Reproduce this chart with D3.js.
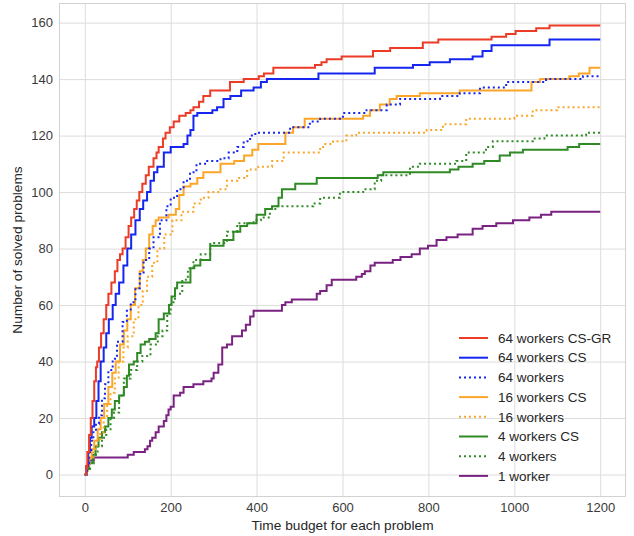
<!DOCTYPE html>
<html>
<head>
<meta charset="utf-8">
<script src="https://cdn.jsdelivr.net/npm/d3@7"></script>
<style>
  body { margin: 0; background: #fff; }
  svg { font-family: "Liberation Sans", Arial, sans-serif; }
</style>
</head>
<body>
<div id="chart"></div>
<script>
"use strict";

// step points [time, solved]
const cs_gr_64 = [[0,0],[3,3],[6,8],[10,14],[14,20],[18,26],[22,33],[26,38],[29,40],[33,45],[38,50],[44,55],[50,60],[55,64],[62,68],[70,72],[76,76],[82,78],[88,80],[95,84],[102,88],[108,91],[115,94],[121,97],[127,100],[134,103],[142,106],[149,109],[160,112],[167,114],[172,116],[182,119],[188,121],[198,123],[207,125],[220,127],[235,128],[246,129],[253,130],[266,132],[276,134],[292,136],[338,139],[370,140],[405,141],[417,142],[439,144],[536,145],[551,146],[563,147],[598,148],[671,150],[711,151],[787,153],[823,154],[947,155],[981,156],[1003,157],[1051,158],[1082,159],[1200,159]];
const cs_64 = [[0,0],[4,3],[8,8],[12,13],[16,17],[22,20],[27,26],[32,33],[37,40],[44,45],[50,50],[56,55],[65,60],[72,64],[80,68],[90,74],[99,80],[108,85],[118,90],[128,94],[136,97],[145,100],[153,104],[161,107],[169,109],[184,114],[200,116],[230,117],[239,120],[246,122],[253,127],[262,128],[297,129],[308,130],[323,133],[339,134],[364,136],[393,137],[410,139],[424,140],[544,142],[675,144],[764,145],[803,146],[850,147],[903,148],[926,150],[947,152],[1082,154],[1200,154]];
const base_64 = [[0,0],[5,4],[10,8],[15,12],[20,15],[26,18],[33,21],[40,27],[47,32],[55,37],[65,41],[75,47],[88,54],[98,58],[107,61],[118,66],[128,71],[137,76],[150,80],[160,84],[175,90],[190,95],[200,98],[215,101],[230,104],[245,107],[260,110],[280,111],[316,112],[335,114],[355,116],[370,118],[385,120],[397,121],[478,123],[524,125],[548,126],[601,128],[656,129],[703,131],[734,133],[827,134],[873,135],[920,137],[981,139],[1074,140],[1160,141],[1200,141]];
const cs_16 = [[0,0],[5,3],[10,6],[16,9],[22,12],[30,16],[37,20],[45,25],[55,31],[64,36],[72,40],[82,46],[91,51],[99,55],[107,60],[117,66],[128,72],[135,76],[142,80],[150,85],[158,88],[165,90],[172,91],[195,92],[212,94],[220,99],[230,102],[246,103],[262,105],[276,107],[316,110],[348,111],[371,113],[390,115],[404,117],[467,121],[485,123],[512,126],[648,127],[664,129],[687,131],[710,133],[726,134],[780,135],[873,136],[1040,139],[1060,140],[1128,141],[1150,142],[1175,144],[1200,144]];
const base_16 = [[0,0],[6,3],[12,6],[20,9],[28,12],[36,15],[44,20],[52,25],[60,29],[70,34],[79,40],[90,45],[100,49],[114,55],[125,60],[135,65],[145,70],[157,75],[169,80],[185,85],[204,90],[225,93],[253,96],[270,98],[288,100],[316,101],[331,104],[355,105],[378,108],[404,109],[436,111],[463,114],[548,116],[555,117],[578,118],[609,120],[632,121],[796,122],[834,124],[888,126],[1000,127],[1043,129],[1100,130],[1200,130]];
const cs_4 = [[0,0],[5,2],[10,4],[18,7],[25,10],[32,13],[40,15],[47,17],[55,20],[63,23],[70,26],[80,28],[91,31],[98,35],[103,39],[114,40],[122,43],[130,46],[140,47],[150,48],[165,50],[172,55],[184,57],[196,60],[202,63],[210,66],[215,68],[230,68],[246,73],[255,74],[269,76],[292,81],[323,83],[346,86],[362,88],[378,89],[400,92],[420,94],[436,95],[451,98],[459,101],[490,103],[540,105],[682,106],[695,107],[850,108],[870,109],[903,110],[930,111],[966,113],[990,114],[1020,115],[1124,116],[1151,117],[1200,117]];
const base_4 = [[0,0],[6,2],[12,4],[21,7],[30,10],[40,13],[50,16],[60,20],[68,22],[80,28],[91,34],[107,37],[122,40],[134,42],[153,46],[170,49],[181,51],[192,57],[200,61],[210,64],[227,69],[240,73],[253,76],[270,78],[292,82],[331,86],[355,89],[393,90],[410,91],[431,94],[447,95],[532,96],[548,98],[594,100],[648,101],[675,104],[690,106],[757,109],[780,110],[865,111],[888,114],[934,116],[950,118],[1043,119],[1070,120],[1167,121],[1200,121]];
const single = [[0,0],[5,3],[10,5],[21,6],[91,6],[100,7],[114,8],[140,9],[146,10],[152,12],[157,13],[165,15],[172,17],[184,19],[190,21],[195,23],[200,24],[207,28],[222,29],[230,31],[253,32],[276,33],[295,34],[300,36],[311,39],[320,45],[331,46],[343,49],[366,51],[375,53],[385,56],[393,58],[459,60],[467,61],[482,62],[540,64],[548,65],[563,67],[575,69],[632,70],[645,71],[652,72],[665,74],[675,75],[717,76],[735,77],[761,78],[780,80],[799,81],[819,83],[842,84],[868,85],[903,87],[926,88],[958,89],[997,90],[1035,91],[1062,92],[1086,93],[1200,93]];

const labels = ["64 workers CS-GR", "64 workers CS", "64 workers", "16 workers CS", "16 workers", "4 workers CS", "4 workers", "1 worker"];
const colors = ["#ec3b26", "#1426f0", "#1426f0", "#fba628", "#fba628", "#2f8a25", "#2f8a25", "#7a2282"];
const dotted = [false, false, true, false, true, false, true, false];
const seriesData = [cs_gr_64, cs_64, base_64, cs_16, base_16, cs_4, base_4, single];

const xTicks = [0, 200, 400, 600, 800, 1000, 1200];
const yTicks = [0, 20, 40, 60, 80, 100, 120, 140, 160];

const width = 634, height = 536;
const margin = {left: 59, top: 3, right: 8, bottom: 39};

const svg = d3.select("#chart").append("svg")
    .attr("width", width)
    .attr("height", height);

const x = d3.scaleLinear().domain([-60, 1260]).range([margin.left, width - margin.right]);
const y = d3.scaleLinear().domain([-7.95, 166.95]).range([height - margin.bottom, margin.top]);

// grid
svg.append("g")
    .attr("transform", `translate(0,${height - margin.bottom})`)
    .call(d3.axisBottom(x).tickValues(xTicks).tickSize(-(height - margin.top - margin.bottom)).tickPadding(6).tickFormat(d3.format("d")))
    .call(g => g.select(".domain").remove())
    .call(g => g.selectAll("line").attr("stroke", "#dcdcdc").attr("stroke-width", 1))
    .call(g => g.selectAll("text").attr("fill", "#3a3a3a").attr("font-size", 13));

svg.append("g")
    .attr("transform", `translate(${margin.left},0)`)
    .call(d3.axisLeft(y).tickValues(yTicks).tickSize(-(width - margin.left - margin.right)).tickPadding(6).tickFormat(d3.format("d")))
    .call(g => g.select(".domain").remove())
    .call(g => g.selectAll("line").attr("stroke", "#dcdcdc").attr("stroke-width", 1))
    .call(g => g.selectAll("text").attr("fill", "#3a3a3a").attr("font-size", 13));

// frame
svg.append("rect")
    .attr("x", margin.left + 0.5)
    .attr("y", margin.top + 0.5)
    .attr("width", width - margin.left - margin.right - 1)
    .attr("height", height - margin.top - margin.bottom - 1)
    .attr("fill", "none")
    .attr("stroke", "#d2d2d2");

const line = d3.line()
    .x(d => x(d[0]))
    .y(d => y(d[1]))
    .curve(d3.curveStepAfter);

// draw back to front so the CS-GR line ends up on top
const order = d3.range(seriesData.length).reverse();
svg.append("g").selectAll("path")
    .data(order)
    .join("path")
    .attr("d", i => line(seriesData[i]))
    .attr("fill", "none")
    .attr("stroke", i => colors[i])
    .attr("stroke-width", 2)
    .attr("stroke-dasharray", i => dotted[i] ? "2,3" : null);

// legend
const legend = svg.append("g").attr("transform", "translate(459,338)");
const rows = legend.selectAll("g")
    .data(labels)
    .join("g")
    .attr("transform", (d, i) => `translate(0,${i * 19.7})`);

rows.append("line")
    .attr("x1", 0).attr("x2", 29)
    .attr("stroke", (d, i) => colors[i])
    .attr("stroke-width", 2)
    .attr("stroke-dasharray", (d, i) => dotted[i] ? "2,3" : null);

rows.append("text")
    .attr("x", 39)
    .attr("dy", "0.35em")
    .attr("font-size", 13.5)
    .attr("fill", "#262626")
    .text(d => d);

// axis titles
svg.append("text")
    .attr("x", (margin.left + width - margin.right) / 2)
    .attr("y", 530)
    .attr("text-anchor", "middle")
    .attr("font-size", 13.7)
    .attr("fill", "#262626")
    .text("Time budget for each problem");

svg.append("text")
    .attr("transform", `translate(22,${(margin.top + height - margin.bottom) / 2}) rotate(-90)`)
    .attr("text-anchor", "middle")
    .attr("font-size", 13.7)
    .attr("fill", "#262626")
    .text("Number of solved problems");
</script>
</body>
</html>
